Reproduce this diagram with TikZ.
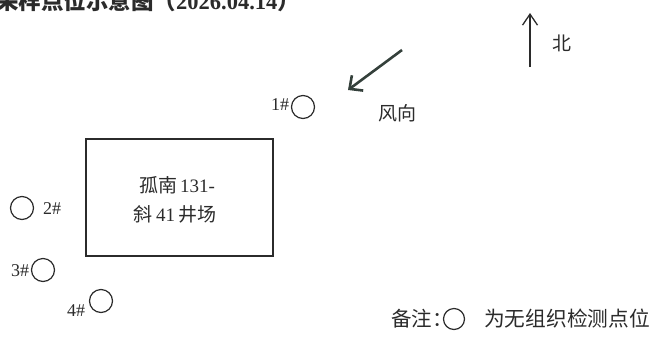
\documentclass[tikz,border=0pt]{standalone}
\usepackage{fontspec}
\setmainfont{Liberation Serif}
\newfontfamily\cjk{Noto Sans CJK SC}
\usetikzlibrary{arrows.meta}
\definecolor{ink}{HTML}{2B2B2B}
\definecolor{windc}{HTML}{34403B}
\begin{document}
\begin{tikzpicture}[x=1pt,y=-1pt,
  pt/.style={draw=ink,line width=1.2pt,circle,minimum size=23pt,inner sep=0pt},
  lbl/.style={text=ink,font=\fontsize{18}{18}\selectfont,inner sep=0pt},
  cjktxt/.style={text=ink,font=\cjk\fontsize{19}{19}\selectfont,inner sep=0pt}]
\useasboundingbox (0,0) rectangle (650,338);
% title
\node[anchor=base west,inner sep=0pt,text=ink,font=\fontsize{22.5}{22.5}\selectfont\bfseries] (title) at (-4,9)
  {{\cjk\bfseries 采样点位示意图（}2026.04.14{\cjk\bfseries ）}};
% north arrow
\coordinate (ns) at (530,67);
\coordinate (ne) at (530,13);
\draw[ink,line width=1.3pt,-{Straight Barb[length=11pt,width=15pt,line width=1.3pt]}] (ns) -- (ne);
\node[cjktxt] (north) at (562,43) {北};
% wind arrow
\coordinate (ws) at (402,50);
\coordinate (we) at (348,90);
\draw[windc,line width=2.6pt,-{Straight Barb[length=10pt,width=19pt,line width=2.6pt]}] (ws) -- (we);
\node[cjktxt] (wind) at (397,113) {风向};
% well site box
\node[draw=ink,line width=1.3pt,minimum width=187pt,minimum height=117pt,inner sep=0pt] (site) at (179.5,197.5) {};
\node[cjktxt] (s1) at (177,185) {孤南\,{\rmfamily 131-}};
\node[cjktxt] (s2) at (175,214) {斜\,{\rmfamily 41}\,井场};
% sample points
\node[pt] (p1) at (303,107) {};
\node[lbl] (l1) at (280,105) {1\#};
\node[pt] (p2) at (22,208) {};
\node[lbl] (l2) at (52,209) {2\#};
\node[pt] (p3) at (43,270) {};
\node[lbl] (l3) at (20,271) {3\#};
\node[pt] (p4) at (101,301) {};
\node[lbl] (l4) at (76,311) {4\#};
% legend
\node[cjktxt,anchor=west,font=\cjk\fontsize{20.5}{20.5}\selectfont] (leg1) at (391,319) {备注：};
\node[pt,minimum size=21pt] (legc) at (454,319) {};
\node[cjktxt,anchor=west,font=\cjk\fontsize{20.7}{20.7}\selectfont] (leg2) at (484,319) {为无组织检测点位};
\end{tikzpicture}
\end{document}
